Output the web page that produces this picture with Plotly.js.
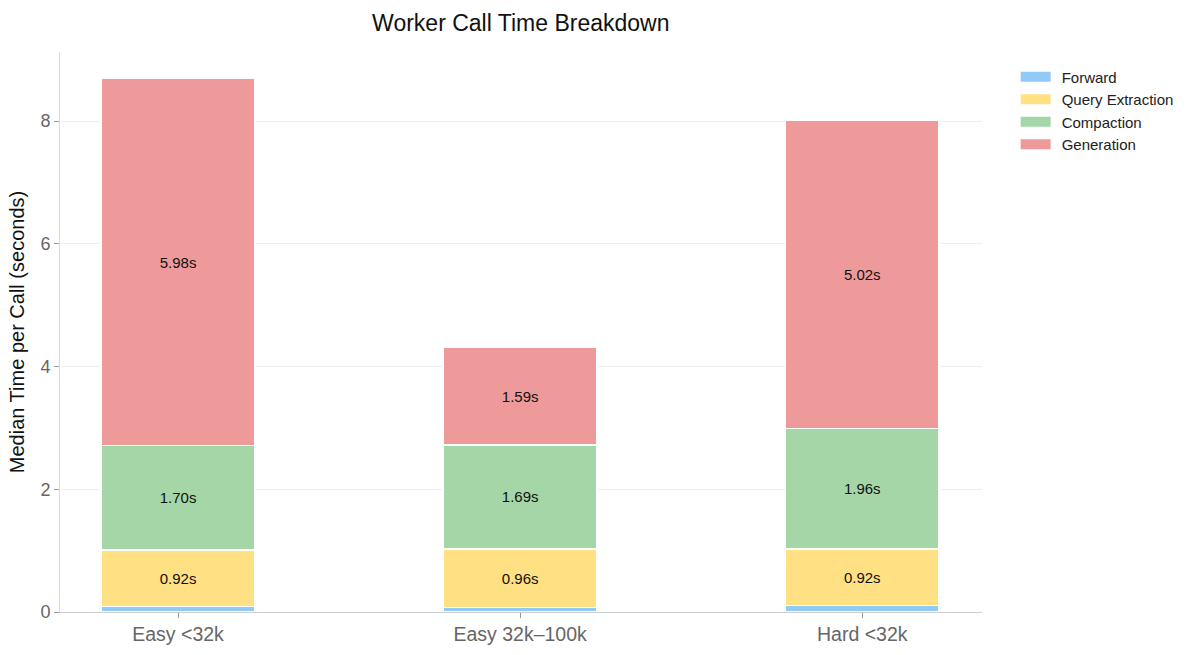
<!DOCTYPE html>
<html>
<head>
<meta charset="utf-8">
<script src="https://cdn.plot.ly/plotly-3.0.1.min.js"></script>
<style>html,body{margin:0;padding:0;background:#fff;}#chart{width:1200px;height:655px;}</style>
</head>
<body>
<div id="chart"></div>
<script>
const categories = ["Easy <32k", "Easy 32k\u2013100k", "Hard <32k"];
const seriesNames = ["Forward", "Query Extraction", "Compaction", "Generation"];
const forward = [0.09, 0.07, 0.11];
const queryExtraction = [0.92, 0.96, 0.92];
const compaction = [1.70, 1.69, 1.96];
const generation = [5.98, 1.59, 5.02];
const colors = ["#90CAF9", "#FFE082", "#A5D6A7", "#EF9A9A"];
const showLabels = [false, true, true, true];

const allSeries = [forward, queryExtraction, compaction, generation];
const FONT = "Liberation Sans, Helvetica, Arial, sans-serif";

const traces = allSeries.map((vals, i) => ({
  type: "bar",
  name: seriesNames[i],
  x: categories,
  y: vals,
  width: 0.45,
  marker: { color: colors[i], line: { color: "#ffffff", width: 1.5 } },
  text: showLabels[i] ? vals.map(v => v.toFixed(2) + "s") : undefined,
  textposition: showLabels[i] ? "inside" : "none",
  insidetextanchor: "middle",
  textfont: { family: FONT, size: 15, color: "#111111" },
  hoverinfo: "x+y+name"
}));

const totals = categories.map((_, j) => allSeries.reduce((s, a) => s + a[j], 0));
const ymax = Math.max(...totals) * 1.05;

const layout = {
  width: 1200, height: 655,
  paper_bgcolor: "#ffffff", plot_bgcolor: "#ffffff",
  barmode: "stack",
  font: { family: FONT, color: "#333" },
  title: { text: "Worker Call Time Breakdown", x: 0.434, xanchor: "center", y: 0.965, yanchor: "middle",
           font: { family: FONT, size: 23, color: "#111111" } },
  margin: { l: 60, r: 218, t: 52, b: 43 },
  xaxis: {
    range: [-0.345, 2.35],
    showline: true, linecolor: "#cccccc", linewidth: 1,
    ticks: "outside", ticklen: 5, tickcolor: "#999999",
    tickfont: { family: FONT, size: 19.5, color: "#666666" },
    showgrid: false, zeroline: false
  },
  yaxis: {
    range: [0, ymax],
    title: { text: "Median Time per Call (seconds)", font: { family: FONT, size: 20, color: "#111111" }, standoff: 10 },
    showline: true, linecolor: "#dddddd", linewidth: 1,
    ticks: "outside", ticklen: 5, tickcolor: "#999999",
    tickfont: { family: FONT, size: 18, color: "#666666" },
    tickvals: [0, 2, 4, 6, 8],
    showgrid: true, gridcolor: "#eeeeee", gridwidth: 1,
    zeroline: false
  },
  legend: {
    x: 1.03, xanchor: "left", y: 0.985, yanchor: "top",
    font: { family: FONT, size: 15, color: "#222" },
    traceorder: "normal",
    itemwidth: 42,
    bgcolor: "rgba(0,0,0,0)"
  },
  showlegend: true
};

Plotly.newPlot("chart", traces, layout, { displayModeBar: false, staticPlot: true }).then(gd => {
  gd.querySelectorAll(".legend .legendpoints path").forEach(p => {
    p.setAttribute("d", "M-15,5H15V-5H-15Z");
    p.style.strokeWidth = "0px";
  });
});
</script>
</body>
</html>
